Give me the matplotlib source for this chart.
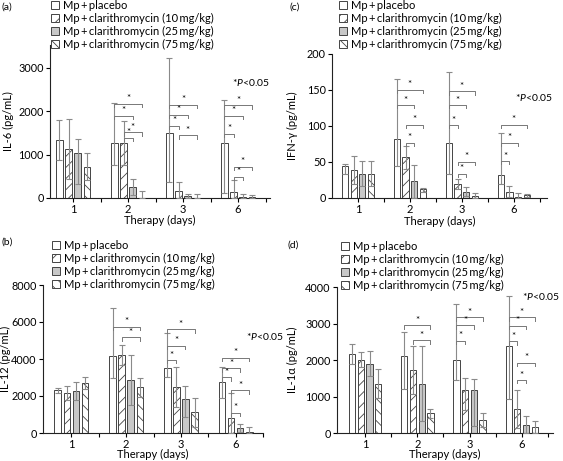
import numpy as np
import matplotlib
matplotlib.use('Agg')
import matplotlib.pyplot as plt
from matplotlib.patches import Patch

plt.rcParams['font.family'] = ['Lato', 'DejaVu Sans']
plt.rcParams['mathtext.fontset'] = 'custom'
plt.rcParams['mathtext.rm'] = 'Lato'
plt.rcParams['mathtext.it'] = 'Lato:italic'
plt.rcParams['hatch.linewidth'] = 0.6

days = ['1', '2', '3', '6']
groups = ['Mp\u2009+\u2009placebo',
          'Mp\u2009+\u2009clarithromycin (10\u2009mg/kg)',
          'Mp\u2009+\u2009clarithromycin (25\u2009mg/kg)',
          'Mp\u2009+\u2009clarithromycin (75\u2009mg/kg)']

# (a) IL-6, rows = groups, cols = days
il6_mean = [[1346, 1270, 1510, 1260],
            [1130, 1270, 150, 130],
            [1040, 260, 40, 20],
            [720, 10, 10, 20]]
il6_lo = [[880, 760, 380, 120],
          [430, 770, 0, 0],
          [330, 80, 0, 0],
          [410, 0, 0, 0]]
il6_hi = [[1810, 2200, 3240, 2250],
          [1830, 1770, 370, 420],
          [1350, 440, 90, 100],
          [1030, 170, 90, 80]]
il6_sig = [(1, 0, 3, 2170), (1, 0, 2, 1900), (1, 1, 3, 1515), (1, 1, 2, 1385),
           (2, 0, 3, 2150), (2, 0, 2, 1920), (2, 0, 1, 1670), (2, 1, 3, 1450),
           (3, 0, 3, 2140), (3, 0, 2, 1900), (3, 0, 1, 1480), (3, 1, 3, 720), (3, 1, 2, 490)]

# (c) IFN-gamma
ifn_mean = [[44, 82, 77, 32],
            [39, 57, 19, 8],
            [33, 24, 9, 1],
            [33, 12, 3, 4]]
ifn_lo = [[33, 44, 33, 20],
          [20, 40, 13, 2],
          [16, 0, 3, 0],
          [16, 8, 0, 2]]
ifn_hi = [[47, 165, 175, 90],
          [58, 72, 27, 17],
          [51, 46, 15, 7],
          [51, 14, 7, 6]]
ifn_sig = [(1, 0, 3, 150), (1, 0, 2, 129), (1, 1, 3, 102), (1, 1, 2, 77),
           (2, 0, 3, 148), (2, 0, 2, 129), (2, 0, 1, 101), (2, 1, 3, 50), (2, 1, 2, 34),
           (3, 0, 3, 102), (3, 0, 2, 77), (3, 0, 1, 51)]

# (b) IL-12
il12_mean = [[2350, 4150, 3500, 2780],
             [2170, 4230, 2480, 800],
             [2280, 2870, 1830, 270],
             [2700, 2470, 1130, 70]]
il12_lo = [[2150, 2950, 3050, 1900],
           [1800, 3700, 1400, 0],
           [1800, 1500, 870, 80],
           [2380, 1950, 350, 0]]
il12_hi = [[2450, 6750, 5420, 3560],
           [2540, 4750, 3570, 2150],
           [2760, 4230, 2550, 470],
           [3030, 2980, 1900, 320]]
il12_sig = [(1, 0, 3, 5745), (1, 1, 3, 5170),
            (2, 0, 3, 5600), (2, 0, 2, 4700), (2, 0, 1, 3940),
            (3, 0, 3, 4070), (3, 0, 2, 3490), (3, 0, 1, 3010), (3, 1, 3, 2310), (3, 1, 2, 1080)]

# (d) IL-1alpha
il1a_mean = [[2170, 2110, 2010, 2390],
             [2010, 1720, 1170, 650],
             [1900, 1350, 1190, 220],
             [1350, 540, 350, 170]]
il1a_lo = [[1900, 1200, 1460, 920],
           [1800, 1060, 620, 130],
           [1550, 330, 180, 0],
           [950, 410, 160, 0]]
il1a_hi = [[2450, 2770, 3530, 3760],
           [2230, 2370, 1500, 1170],
           [2250, 2370, 1470, 460],
           [1750, 670, 540, 330]]
il1a_sig = [(1, 0, 3, 2950), (1, 1, 3, 2540),
            (2, 0, 3, 3170), (2, 0, 2, 2950), (2, 0, 1, 2520),
            (3, 0, 3, 3170), (3, 0, 2, 2935), (3, 0, 1, 2510), (3, 1, 3, 1930), (3, 1, 2, 1445)]

W, H = 563, 461
fig = plt.figure(figsize=(W / 100, H / 100), dpi=100)

offsets = [-0.25, -0.083, 0.083, 0.25]
faces = ['white', 'white', '#c8c8c8', 'white']
hatches = [None, '///', None, '\\\\\\']
edge = '#444444'


def px_axes(l, t, r, b):
    ax = fig.add_axes([l / W, 1 - b / H, (r - l) / W, (b - t) / H])
    ax.box_px = (l, t, r, b)
    return ax


def panel(ax, mean, lo, hi, sig, ymax, yticks, ylabel, xlim, ylab_x, xlab_y):
    x = np.arange(len(days))
    mean = np.array(mean)
    lo = np.array(lo)
    hi = np.array(hi)
    for g in range(4):
        xs = x + offsets[g]
        ax.bar(xs, mean[g], width=0.12, color=faces[g], edgecolor=edge,
               hatch=hatches[g], linewidth=0.7, zorder=2)
        ax.errorbar(xs, mean[g], yerr=[mean[g] - lo[g], hi[g] - mean[g]], fmt='none',
                    ecolor='#8a8a8a', elinewidth=0.8, capsize=2.3, capthick=0.8, zorder=3)
    h = 0.022 * ymax
    for d, i, j, y in sig:
        x1 = d + offsets[i]
        x2 = d + offsets[j]
        ax.plot([x1, x1, x2, x2], [y - h, y, y, y - h], color='#777777', lw=0.7, zorder=3)
        ax.text((x1 + x2) / 2, y + 0.004 * ymax, '*', ha='center', va='bottom', fontsize=7)
    ax.set_xlim(*xlim)
    ax.set_ylim(0, ymax)
    ax.set_yticks(yticks)
    ax.set_xticks(x)
    ax.set_xticklabels(days)
    ax.set_xticks([0.5, 1.5, 2.5, 3.5], minor=True)
    ax.tick_params(which='both', direction='out', length=3, width=0.8, labelsize=7.8, pad=1.5)
    ax.tick_params(axis='x', labelsize=8, pad=1)
    for s in ['top', 'right']:
        ax.spines[s].set_visible(False)
    for s in ['left', 'bottom']:
        ax.spines[s].set_linewidth(0.8)
        ax.spines[s].set_color('#222222')
    l, t, r, b = ax.box_px
    ax.set_ylabel(ylabel, fontsize=8)
    ax.yaxis.set_label_coords((ylab_x - l) / (r - l), 0.5)
    ax.yaxis.label.set_va('center')
    ax.set_xlabel('Therapy (days)', fontsize=8)
    ax.xaxis.set_label_coords(0.5, -(xlab_y - b) / (b - t))
    ax.xaxis.label.set_va('center')


def legend(ax, lx, ty):
    handles = [Patch(facecolor=faces[g], edgecolor=edge, hatch=hatches[g], linewidth=0.7)
               for g in range(4)]
    ax.legend(handles, groups, loc='upper left', bbox_to_anchor=(lx / W, 1 - ty / H),
              bbox_transform=fig.transFigure, frameon=False, fontsize=8,
              handlelength=0.7, handleheight=0.7, handletextpad=0.35,
              labelspacing=0.18, borderpad=0, borderaxespad=0)


ax_a = px_axes(50, 45, 270, 198)
panel(ax_a, il6_mean, il6_lo, il6_hi, il6_sig, 3530, [0, 1000, 2000, 3000], 'IL-6 (pg/mL)',
      (-0.42, 3.58), 8, 220)
legend(ax_a, 51, 0)

ax_c = px_axes(332, 54, 547, 198)
panel(ax_c, ifn_mean, ifn_lo, ifn_hi, ifn_sig, 200, [0, 50, 100, 150, 200], 'IFN-\u03b3 (pg/mL)',
      (-0.5, 3.64), 292, 221)
legend(ax_c, 339, 0)

ax_b = px_axes(43, 285, 263, 433)
panel(ax_b, il12_mean, il12_lo, il12_hi, il12_sig, 8000, [0, 2000, 4000, 6000, 8000], 'IL-12 (pg/mL)',
      (-0.52, 3.48), 5, 454)
legend(ax_b, 52, 240)

ax_d = px_axes(337, 287, 553, 433)
panel(ax_d, il1a_mean, il1a_lo, il1a_hi, il1a_sig, 4000, [0, 1000, 2000, 3000, 4000], 'IL-1\u03b1 (pg/mL)',
      (-0.54, 3.6), 292, 454)
legend(ax_d, 341, 241)

for lab, px, py in [('(a)', 2, 7), ('(c)', 290, 7), ('(b)', 2, 242), ('(d)', 287, 245)]:
    fig.text(px / W, 1 - py / H, lab, fontsize=7.5, ha='left', va='center')

for px, py in [(232, 82), (515, 97), (246, 336), (522, 297)]:
    fig.text(px / W, 1 - py / H, '*$P$<0.05', fontsize=7.5, ha='left', va='center')

fig.savefig('out.png', dpi=100)
